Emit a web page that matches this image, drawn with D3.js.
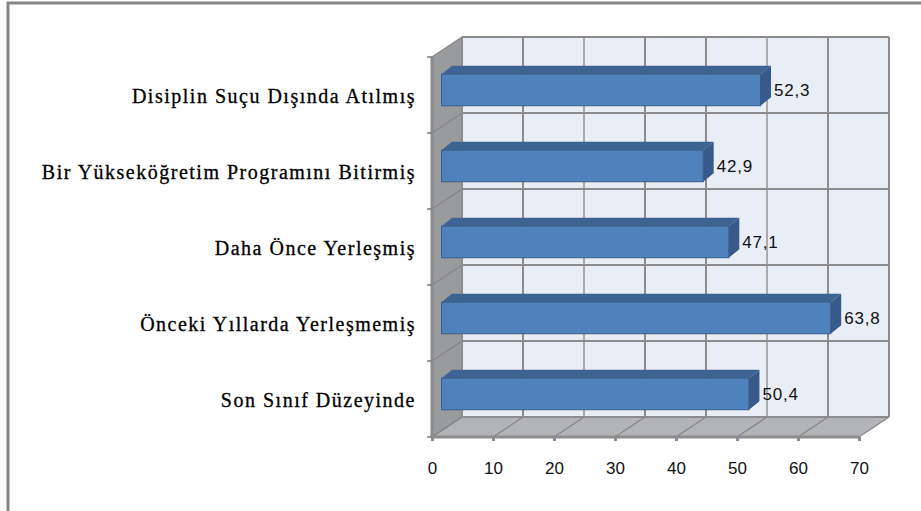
<!DOCTYPE html>
<html>
<head>
<meta charset="utf-8">
<script src="https://d3js.org/d3.v7.min.js" charset="utf-8"></script>
<style>
    body {margin:0;background:#fff;}
    svg {display:block;}
</style>
</head>
<body>
<div id="chart"></div>
<script>

const categories = ["Disiplin Suçu Dışında Atılmış", "Bir Yükseköğretim Programını Bitirmiş", "Daha Önce Yerleşmiş", "Önceki Yıllarda Yerleşmemiş", "Son Sınıf Düzeyinde"];
const values = [52.3, 42.9, 47.1, 63.8, 50.4];
const valueLabels = ["52,3", "42,9", "47,1", "63,8", "50,4"];
const xTicks = [0, 10, 20, 30, 40, 50, 60, 70];

const width = 921, height = 511;

const x = d3.scaleLinear().domain([0, 70]).range([432, 859]);
const y = d3.scaleBand().domain(categories).range([57, 437]);

// 3d offsets: back wall, and where the bars sit inside the depth
const dx = 30, dy = -20;
const barDx = 9.5, barDepthX = 10.5, barDepthY = -8.5, barH = 31.5;

const grid = "#8c8c8c";

const svg = d3.select("#chart").append("svg")
    .attr("width", width)
    .attr("height", height);

// outer frame, only top and left show
svg.append("path")
    .attr("d", "M8,511V3H921")
    .attr("fill", "none")
    .attr("stroke", "#868686")
    .attr("stroke-width", 3);

const x0 = x(0), x1 = x(70), yTop = y.range()[0], yBot = y.range()[1];

// back wall
svg.append("rect")
    .attr("x", x0 + dx).attr("y", yTop + dy)
    .attr("width", x1 - x0).attr("height", yBot - yTop)
    .attr("fill", "#e9edf6");

// side wall
svg.append("path")
    .attr("d", `M${x0},${yTop}L${x0 + dx},${yTop + dy}V${yBot + dy}L${x0},${yBot}Z`)
    .attr("fill", "#9a9b9d");

// floor
svg.append("path")
    .attr("d", `M${x0},${yBot}L${x0 + dx},${yBot + dy}H${x1 + dx}L${x1},${yBot}Z`)
    .attr("fill", "#b2b4b7");

// gridlines
const yLines = categories.map(c => y(c)).concat([yBot]);

svg.append("g").selectAll("line")
    .data(xTicks)
    .join("line")
    .attr("x1", d => x(d) + dx).attr("x2", d => x(d) + dx)
    .attr("y1", yTop + dy).attr("y2", yBot + dy)
    .attr("stroke", (d, i) => i == 2 || i == 5 ? "#ababab" : grid)
    .attr("stroke-width", 2);

svg.append("g").selectAll("line")
    .data(yLines)
    .join("line")
    .attr("x1", x0 + dx).attr("x2", x1 + dx)
    .attr("y1", d => d + dy).attr("y2", d => d + dy)
    .attr("stroke", grid)
    .attr("stroke-width", 2);

// side wall lines
svg.append("g").selectAll("line")
    .data(yLines)
    .join("line")
    .attr("x1", x0).attr("x2", x0 + dx)
    .attr("y1", d => d).attr("y2", d => d + dy)
    .attr("stroke", "#858585")
    .attr("stroke-width", 1.2);

// floor lines
svg.append("g").selectAll("line")
    .data(xTicks)
    .join("line")
    .attr("x1", d => x(d)).attr("x2", d => x(d) + dx)
    .attr("y1", yBot).attr("y2", yBot + dy)
    .attr("stroke", "#858585")
    .attr("stroke-width", 1.2);

// axes
const xAxis = svg.append("g")
    .attr("transform", `translate(0,${yBot})`)
    .call(d3.axisBottom(x).tickValues(xTicks).tickSize(4).tickPadding(21).tickFormat(d3.format("d")));

const yAxis = svg.append("g")
    .attr("transform", `translate(${x0},0)`)
    .call(d3.axisLeft(y).tickSize(0).tickPadding(16));

xAxis.select(".domain").attr("d", `M${x0},0H${x1}`).attr("stroke", grid).attr("stroke-width", 3);
xAxis.selectAll(".tick line").attr("stroke", grid).attr("stroke-width", 3);
xAxis.selectAll(".tick text")
    .attr("fill", "#111")
    .style("font", "17px 'Liberation Sans'");

yAxis.select(".domain").attr("d", `M0,${yTop}V${yBot}`).attr("stroke", grid).attr("stroke-width", 3);
yAxis.selectAll(".tick line").remove();
yAxis.selectAll(".tick text")
    .attr("fill", "#000")
    .attr("dy", "0.4em")
    .attr("stroke", "#000")
    .attr("stroke-width", 0.3)
    .style("font", "20px 'Liberation Serif'")
    .style("letter-spacing", "1.5px");

// left tick marks
svg.append("g").selectAll("line")
    .data(yLines)
    .join("line")
    .attr("x1", x0 - 5).attr("x2", x0)
    .attr("y1", d => d).attr("y2", d => d)
    .attr("stroke", "#7a7a7a")
    .attr("stroke-width", 1.5);

// bars
const barY = c => y(c) + y.bandwidth() / 2 - barH / 2 - 5;
const bars = svg.append("g").selectAll("g")
    .data(categories)
    .join("g");

// front face
bars.append("rect")
    .attr("x", x0 + barDx)
    .attr("y", barY)
    .attr("width", (c, i) => x(values[i]) - x0)
    .attr("height", barH)
    .attr("fill", "#4f81bd")
    .attr("stroke", "#385d8a")
    .attr("stroke-width", 1);

// top face
bars.append("path")
    .attr("d", (c, i) => {
        const l = x0 + barDx, r = x(values[i]) + barDx, t = barY(c);
        return `M${l},${t}L${l + barDepthX},${t + barDepthY}H${r + barDepthX}L${r},${t}Z`;
    })
    .attr("fill", "#3d6392");

// end face
bars.append("path")
    .attr("d", (c, i) => {
        const r = x(values[i]) + barDx, t = barY(c);
        return `M${r},${t}L${r + barDepthX},${t + barDepthY}V${t + barDepthY + barH}L${r},${t + barH}Z`;
    })
    .attr("fill", "#38598a");

// value labels
bars.append("text")
    .attr("x", (c, i) => x(values[i]) + barDx + barDepthX + 3)
    .attr("y", c => barY(c) + barH / 2 + 6)
    .attr("fill", "#111")
    .style("font", "17px 'Liberation Sans'")
    .style("letter-spacing", "0.8px")
    .text((c, i) => valueLabels[i]);

</script>
</body>
</html>
